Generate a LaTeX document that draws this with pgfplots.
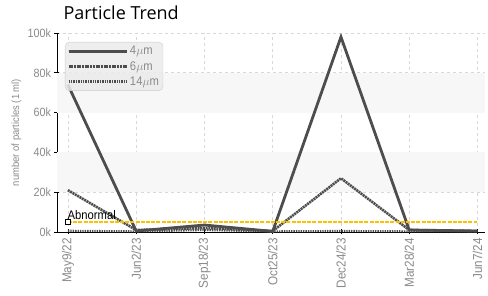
\documentclass[border=0pt]{standalone}
\usepackage{pgfplots}
\pgfplotsset{compat=1.18}
\usepackage{fontspec}
\setmainfont{Liberation Sans}
\newfontfamily\narrow[FakeStretch=0.9]{Liberation Sans}
\newfontfamily\titlefont{Open Sans}
\definecolor{ser}{HTML}{4D4D4D}
\definecolor{tickgray}{HTML}{8A8A8A}
\definecolor{gridgray}{HTML}{D8D8D8}
\definecolor{band}{HTML}{F7F7F7}
\definecolor{abn}{HTML}{FFC000}
\begin{document}
\begin{tikzpicture}
\begin{axis}[
  at={(0,0)}, anchor=south west,
  scale only axis, width=428pt, height=199pt,
  xmin=-0.16, xmax=6.11, ymin=0, ymax=100000,
  axis x line*=bottom, axis y line*=left,
  axis line style={-, black, line width=0.8pt},
  xtick={0,...,6},
  xticklabels={May9/22,Jun2/23,Sep18/23,Oct25/23,Dec24/23,Mar28/24,Jun7/24},
  ytick={0,20000,40000,60000,80000,100000},
  yticklabels={0k,20k,40k,60k,80k,100k},
  scaled y ticks=false,
  xticklabel style={rotate=90, anchor=east, font=\narrow\fontsize{13}{15}\selectfont, text=tickgray},
  yticklabel style={font=\narrow\fontsize{12}{14}\selectfont, text=tickgray},
  tick align=center, major tick length=5pt,
  tick style={black, line width=0.8pt},
  grid=major, major grid style={gridgray, dashed, line width=0.6pt},
  ylabel={number of particles (1 ml)},
  ylabel style={font=\narrow\fontsize{10.5}{12}\selectfont, text=tickgray, at={(-0.095,0.5)}, anchor=center},
  legend style={at={(8pt,190pt)}, anchor=north west, draw=black!20, fill=black!8, fill opacity=0.85, text opacity=1, draw opacity=1, rounded corners=4pt,
    font=\narrow\fontsize{12.5}{13}\selectfont, text=tickgray, row sep=1pt, inner sep=2pt},
  legend cell align=left,
  legend image code/.code={\draw[#1, draw opacity=1] (0pt,0pt) -- (58pt,0pt);},
  clip=false,
]
\fill[band] (axis cs:-0.16,20000) rectangle (axis cs:6.11,40000);
\fill[band] (axis cs:-0.16,60000) rectangle (axis cs:6.11,80000);
\addplot[ser, line width=2.8pt] coordinates {(0,74000)(1,500)(2,3500)(3,300)(4,98000)(5,1000)(6,500)};
\addlegendentry{4$\mu$m}
\addplot[ser, line width=2.6pt, dash pattern=on 2pt off 0.7pt] coordinates {(0,21000)(1,1000)(2,2000)(3,500)(4,27000)(5,1000)(6,500)};
\addlegendentry{6$\mu$m}
\addplot[ser, line width=2.2pt, dash pattern=on 1.4pt off 1pt] coordinates {(0,600)(1,300)(2,1000)(3,300)(4,500)(5,300)(6,300)};
\addlegendentry{14$\mu$m}
\addplot[abn, line width=2pt, dash pattern=on 4pt off 1.2pt, forget plot] coordinates {(0,5000)(6,5000)};
\addplot[black, only marks, mark=square*, mark size=2.2pt, mark options={fill=white, line width=0.8pt}, forget plot,
  nodes near coords={Abnormal}, nodes near coords style={anchor=south west, font=\narrow\fontsize{12.5}{14}\selectfont, text=black, xshift=-4pt, yshift=-1pt}] coordinates {(0,5000)};
\end{axis}
\node[anchor=west, font=\titlefont\fontsize{18}{21}\selectfont] at (3pt,219pt) {Particle Trend};
\pgfresetboundingbox
\path (-57pt,-64pt) rectangle (431pt,232pt);
\end{tikzpicture}
\end{document}
